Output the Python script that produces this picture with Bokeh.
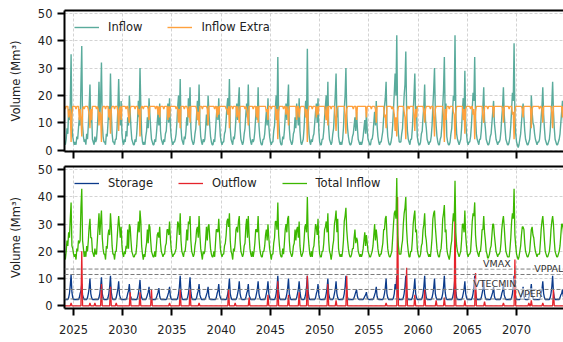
import numpy as np
from bokeh.plotting import figure
from bokeh.models import (Range1d, LinearAxis, FixedTicker, Span, Label, Legend,
                          LegendItem, CustomJSTickFormatter)
from bokeh.layouts import column
from bokeh.embed import file_html
from bokeh.resources import INLINE

# ---------------- data (monthly, Jan 2024 .. Dec 2074) ----------------
start_year = 2024
x_ticks = [2025, 2030, 2035, 2040, 2045, 2050, 2055, 2060, 2065, 2070]
y_ticks = [0, 10, 20, 30, 40, 50]

inflow = [
    3,3,2,4,8,6,15,11,17,35,9,5,
    3,2,3,2,5,4,8,12,9,24,38,9,
    5,3,4,2,6,4,9,16,24,10,14,4,
    3,2,5,3,4,8,14,25,12,18,32,10,
    5,3,3,2,6,5,10,16,11,28,14,6,
    3,3,2,4,4,8,15,26,14,9,18,6,
    3,2,4,3,7,5,12,9,20,14,8,4,
    3,2,2,4,3,6,11,18,12,30,16,6,
    3,2,3,2,5,7,12,8,19,13,8,4,
    3,2,2,4,3,6,10,14,9,17,7,4,
    3,2,4,3,6,7,12,17,10,19,9,5,
    3,2,3,3,4,6,10,16,20,11,26,8,
    4,3,2,5,4,7,12,9,19,14,23,8,
    4,3,2,3,6,8,13,18,11,24,10,5,
    3,2,4,3,4,8,13,9,20,14,9,5,
    3,2,2,4,3,7,12,16,11,19,10,5,
    3,2,3,3,6,7,11,16,19,13,26,8,
    4,3,2,5,4,7,12,17,11,18,23,8,
    4,3,2,3,6,8,13,17,12,24,10,5,
    3,2,4,3,4,7,12,16,11,23,9,5,
    3,2,2,4,4,6,10,14,9,19,9,5,
    3,2,3,3,7,9,15,20,13,34,12,6,
    3,2,2,5,4,7,12,17,11,18,24,8,
    4,3,2,3,6,7,12,8,17,13,9,19,
    7,3,2,3,4,8,14,18,12,37,12,6,
    3,2,4,3,5,6,10,14,17,10,19,7,
    3,2,2,4,4,7,12,16,20,11,25,8,
    4,3,2,3,6,8,14,20,28,12,16,5,
    3,2,3,2,4,8,15,20,30,13,8,5,
    3,2,2,3,5,6,9,12,7,14,8,4,
    3,2,3,2,3,5,8,11,6,14,7,4,
    3,2,2,4,4,6,10,14,9,18,9,5,
    3,2,3,3,5,7,12,16,19,25,10,5,
    3,2,2,3,5,9,15,21,28,20,42,12,
    6,3,3,3,6,8,14,20,24,36,14,7,
    4,3,2,4,4,8,14,20,28,12,16,5,
    3,2,2,3,6,7,12,16,24,11,8,4,
    3,2,3,3,5,9,16,22,30,14,9,5,
    3,2,2,4,5,9,16,22,34,12,17,5,
    3,2,2,3,6,8,14,20,18,42,13,6,
    4,3,2,3,4,8,14,19,12,29,11,6,
    3,2,3,3,5,9,15,21,18,34,12,6,
    4,3,2,4,4,7,12,16,23,11,8,4,
    3,2,2,3,5,6,10,14,18,10,7,4,
    3,2,3,3,4,7,12,16,23,13,8,4,
    3,2,2,3,5,9,15,21,18,39,12,6,
    3,2,1,2,4,6,10,14,17,12,7,4,
    3,2,2,3,4,8,20,14,10,9,6,4,
    3,2,3,3,4,7,12,16,23,13,8,4,
    3,2,2,3,4,7,12,17,25,14,8,4,
    3,2,2,3,4,6,10,14,18,12,7,4,
]

inflow_extra = [
    16,16,15,16,16,16,12,14,15,3,13,16,
    16,16,16,15,16,16,16,11,15,12,5,15,
    16,15,16,16,16,16,15,13,8,15,11,16,
    16,16,16,16,15,16,15,9,14,13,3,15,
    16,16,16,15,16,16,16,12,15,6,15,16,
    16,16,15,16,16,16,14,7,15,16,11,16,
    16,16,16,16,15,16,16,12,10,15,16,16,
    16,16,16,15,16,16,16,13,15,5,15,16,
    16,15,16,16,16,16,16,15,11,16,16,16,
    16,16,16,16,15,16,16,13,16,12,16,16,
    16,16,15,16,16,16,16,11,16,12,16,16,
    16,16,16,16,16,15,16,15,10,15,8,16,
    16,16,16,15,16,16,16,15,12,16,10,16,
    16,16,16,16,16,16,15,11,14,9,16,16,
    16,15,16,16,16,16,16,15,9,16,16,16,
    16,16,16,16,15,16,16,12,16,13,16,16,
    16,16,16,16,16,16,15,15,13,16,8,16,
    16,16,15,16,16,16,16,12,16,13,10,16,
    16,16,16,16,16,15,16,15,13,9,16,16,
    16,16,16,15,16,16,16,12,16,10,16,16,
    16,16,16,16,16,16,16,14,15,11,16,16,
    16,15,16,16,16,16,16,11,15,4,14,16,
    16,16,16,16,15,16,16,13,16,14,9,16,
    16,16,16,16,16,16,16,16,11,16,16,12,
    15,16,16,16,16,16,15,12,15,3,14,16,
    16,16,16,15,16,16,16,16,12,16,13,16,
    16,16,16,16,16,16,16,13,11,16,9,16,
    16,16,15,16,16,16,16,12,7,15,16,16,
    16,16,16,16,16,16,16,13,6,15,16,16,
    16,16,16,16,16,15,16,16,16,11,16,16,
    16,16,16,16,16,16,16,16,16,12,16,16,
    16,16,16,15,16,16,16,16,15,10,16,16,
    16,16,16,16,16,16,16,12,13,8,16,16,
    16,16,16,16,15,16,15,13,7,12,5,14,
    16,16,16,16,16,16,16,14,12,4,14,16,
    16,15,16,16,16,16,16,13,7,15,12,16,
    16,16,16,16,16,16,16,14,10,15,16,16,
    16,16,16,15,16,16,16,12,5,15,16,16,
    16,16,16,16,16,16,16,12,3,15,11,16,
    16,16,15,16,16,16,16,14,13,4,14,16,
    16,16,16,16,16,16,16,11,15,6,15,16,
    16,16,16,16,15,16,16,13,15,4,14,16,
    16,16,16,16,16,16,16,12,10,16,16,16,
    16,15,16,16,16,16,16,16,12,16,16,16,
    16,16,16,16,16,16,16,15,10,16,16,16,
    16,16,16,15,16,16,16,13,14,4,14,16,
    16,16,16,16,16,16,16,15,12,16,16,16,
    16,16,16,16,16,16,8,15,16,16,16,16,
    16,16,16,16,15,16,16,15,10,16,16,16,
    16,16,16,16,16,16,16,14,8,16,16,16,
    16,16,16,16,16,16,16,16,12,16,16,16,
]

storage = [
    2.3,2.3,2.3,2.3,2.3,2.3,3,4.5,7.5,11.5,5,3,
    2.3,2.3,2.3,2.3,2.3,2.3,2.3,3,4.5,5.5,8,4,
    3,2.3,2.3,2.3,2.3,3,4.5,6.5,10,4.5,3,2.3,
    2.3,2.3,2.3,2.3,2.3,2.3,2.3,3,4.5,7,10.5,4.5,
    3,2.3,2.3,2.3,2.3,2.3,3,4.5,7,11,5,3,
    2.3,2.3,2.3,2.3,3,4.5,6,9,4,3,2.3,2.3,
    2.3,2.3,2.3,2.3,2.3,3,4.5,5.5,8,4,3,2.3,
    2.3,2.3,2.3,2.3,2.3,2.3,3,4.5,6.5,9.5,4.5,3,
    2.3,2.3,2.3,2.3,2.3,3,4,5,7,3.5,2.5,2.3,
    2.3,2.3,2.3,2.3,2.3,3,4,5,6.5,3.5,2.5,2.3,
    2.3,2.3,2.3,2.3,2.3,2.3,3,4,5,7,3.5,2.5,
    2.3,2.3,2.3,2.3,2.3,2.3,2.3,3,4.5,7,11,5,
    3,2.3,2.3,2.3,2.3,2.3,2.3,3,4.5,7,10.5,5,
    3,2.3,2.3,2.3,2.3,2.3,3,4.5,5.5,8,4,3,
    2.3,2.3,2.3,2.3,2.3,3,4,5,7,3.5,2.5,2.3,
    2.3,2.3,2.3,2.3,2.3,2.3,3,4.5,5.5,8,4,3,
    2.3,2.3,2.3,2.3,2.3,2.3,2.3,3,4.5,6.5,10,4.5,
    3,2.3,2.3,2.3,2.3,2.3,2.3,3,4.5,6,9,4.5,
    3,2.3,2.3,2.3,2.3,2.3,3,4.5,5.5,8,4,3,
    2.3,2.3,2.3,2.3,2.3,2.3,3,4.5,6,9,4.5,3,
    2.3,2.3,2.3,2.3,2.3,2.3,3,4.5,6,9,4.5,3,
    2.3,2.3,2.3,2.3,2.3,2.3,3,4.5,7,11,5,3,
    2.3,2.3,2.3,2.3,2.3,2.3,2.3,3,4.5,6.5,10,4.5,
    3,2.3,2.3,2.3,2.3,2.3,2.3,2.3,3,4.5,6,9,
    5,3,2.3,2.3,2.3,2.3,3,4.5,7,11,5,3,
    2.3,2.3,2.3,2.3,2.3,2.3,2.3,3,4.5,5.5,8,4,
    2.5,2.3,2.3,2.3,2.3,2.3,2.3,3,4.5,6.5,10,4.5,
    3,2.3,2.3,2.3,2.3,3,4.5,6,9,4.5,3,2.3,
    2.3,2.3,2.3,2.3,2.3,3,4.5,7,11,5,3,2.3,
    2.3,2.3,2.3,2.3,2.3,2.3,3,4,5,6,3.5,2.5,
    2.3,2.3,2.3,2.3,2.3,2.3,2.8,3.5,4,5,3,2.5,
    2.3,2.3,2.3,2.3,2.3,2.3,3,4,5,7,3.5,2.5,
    2.3,2.3,2.3,2.3,2.3,2.3,3,4.5,6.5,10,4.5,3,
    2.3,2.3,2.3,2.3,2.3,2.3,3,4.5,8,6,11,5,
    3,2.3,2.3,2.3,2.3,2.3,3,4.5,7,11,5,3,
    2.3,2.3,2.3,2.3,2.3,3,4.5,6.5,10,4.5,3,2.3,
    2.3,2.3,2.3,2.3,2.3,3,4.5,7,11,5,3,2.3,
    2.3,2.3,2.3,2.3,2.3,3,4.5,6.5,10,4.5,3,2.3,
    2.3,2.3,2.3,2.3,2.3,3,4.5,7,11,5,3,2.3,
    2.3,2.3,2.3,2.3,2.3,2.3,3,4.5,7,11,5,3,
    2.3,2.3,2.3,2.3,2.3,2.3,3,4.5,6,9,4.5,3,
    2.3,2.3,2.3,2.3,2.3,2.3,3,4.5,7,11,5,3,
    2.3,2.3,2.3,2.3,2.3,3,4.5,6,9,4.5,3,2.3,
    2.3,2.3,2.3,2.3,2.3,3,4,5,7,3.5,2.5,2.3,
    2.3,2.3,2.3,2.3,2.3,3,4.5,5.5,8,4,3,2.3,
    2.3,2.3,2.3,2.3,2.3,2.3,3,4.5,7,11,5,3,
    2.3,2.3,2.3,2.3,2.3,3,4,5,7,3.5,2.5,2.3,
    2.3,2.3,2.3,3,4.5,5.5,8,4,3,2.3,2.3,2.3,
    2.3,2.3,2.3,2.3,2.3,3,4.5,6,9,4.5,3,2.3,
    2.3,2.3,2.3,2.3,2.3,3,4.5,7,11,5,3,2.3,
    2.3,2.3,2.3,2.3,2.3,3,4,4.5,6,3.5,2.5,2.3,
]

outflow = [
    0,0,0,0,0,0,0,0,0,1,0,0,
    0,0,0,0,0,0,0,0,0,0,20,0,
    0,0,0,0,0,0,0,0,1,0,0,0,
    0,0,1,0,0,0,0,0,0,0,8,0,
    0,0,0,0,0,0,0,0,0,7,0,0,
    0,0,0,0,1,0,0,0,0,0,0,0,
    0,0,0,0,0,0,0,0,0,5,0,0,
    0,0,0,0,0,0,0,0,0,5,0,0,
    0,0,0,0,0,0,0,0,0,0,0,6,
    0,0,0,0,0,0,0,0,0,0,0,0,
    0,0,0,0,0,0,0,0,0,1,0,0,
    0,0,0,0,0,0,0,0,0,0,6,0,
    0,0,0,0,0,0,0,0,0,0,6,0,
    0,0,0,0,0,0,0,0,0,1,0,0,
    0,0,0,0,0,0,0,0,0,0,0,0,
    0,0,0,0,0,0,0,0,0,0,0,0,
    0,0,0,0,0,0,0,0,0,6,0,0,
    0,0,0,0,0,1,0,0,0,0,0,0,
    0,0,0,0,0,0,0,0,0,0,3,0,
    0,0,0,0,0,0,0,0,0,0,0,0,
    0,0,0,0,0,0,0,0,0,4,0,0,
    0,0,0,0,0,0,0,0,0,9,0,0,
    0,0,0,0,0,0,0,0,0,0,4,0,
    0,0,0,0,0,0,0,0,0,0,0,5,
    0,0,0,0,0,0,0,0,0,11,0,0,
    0,0,0,0,0,0,0,0,0,0,0,0,
    0,0,0,0,0,0,0,0,0,0,8,0,
    0,0,0,0,0,0,0,0,2,0,0,0,
    0,0,0,0,0,0,0,0,0,11,0,0,
    0,0,0,0,0,0,0,0,0,0,0,0,
    0,0,0,0,0,0,0,0,0,0,0,0,
    0,0,0,0,0,0,0,0,0,0,0,0,
    0,0,0,0,0,0,0,0,0,1,0,0,
    0,0,0,0,0,0,0,0,0,0,0,40,
    0,0,0,0,0,0,0,0,0,0,14,0,
    0,0,0,0,0,0,0,0,4,0,0,0,
    0,0,0,0,0,0,0,0,6,0,0,0,
    0,0,0,0,0,0,0,0,0,0,2,0,
    0,0,0,0,0,0,0,0,3,0,0,0,
    0,0,0,0,0,0,0,0,0,37,0,0,
    0,0,0,0,0,0,0,0,0,2,0,0,
    0,0,0,0,0,0,0,0,0,0,12,0,
    0,0,0,0,0,0,0,0,0,1.5,0,0,
    0,0,0,0,0,0,0,0,0,0,0,0,
    0,0,0,0,0,0,0,0,1,0,0,0,
    0,0,0,0,0,0,0,0,0,0,17,0,
    0,0,0,0,0,0,0,0,0,0,0,0,
    0,0,0,1,0,0,2,0,0,0,0,0,
    0,0,0,0,0,0,0,0,1,0,0,0,
    0,0,0,0,0,0,0,0,0,6,0,0,
    0,0,0,0,0,0,0,0,0,0,0,0,
]

ref_names = ["VMAX", "VPPAL", "VTECMIN", "VPER"]
ref_values = [13.5, 11.5, 6.0, 2.5]

# derived
t = start_year + np.arange(len(inflow)) / 12.0
total_inflow = [a + b for a, b in zip(inflow, inflow_extra)]

# ---------------- styling ----------------
FONT = "DejaVu Sans"
FS = "11.5px"
C_INFLOW = "#5aab9c"
C_EXTRA = "#ffa13d"
C_STORAGE = "#0b3a8a"
C_OUT = "#e5232b"
C_TOTAL = "#3cb700"

x_range = Range1d(2024.08, 2074.77)


def make_fig(y0, y1, frame_h, top_border, bottom_border, show_xlabels):
    p = figure(x_range=x_range, y_range=Range1d(y0, y1),
               frame_width=499, frame_height=frame_h,
               min_border_left=64, min_border_right=0,
               min_border_top=top_border, min_border_bottom=bottom_border,
               output_backend="svg", toolbar_location=None)
    p.outline_line_color = None
    p.background_fill_color = "white"
    p.border_fill_color = "white"
    p.xaxis.ticker = FixedTicker(ticks=x_ticks)
    p.yaxis.ticker = FixedTicker(ticks=y_ticks)
    for ax in (p.xaxis[0], p.yaxis[0]):
        ax.axis_line_width = 2
        ax.axis_line_color = "black"
        ax.major_tick_line_width = 2
        ax.major_tick_line_color = "black"
        ax.major_tick_out = 7
        ax.major_tick_in = 0
        ax.minor_tick_out = 0
        ax.minor_tick_in = 0
        ax.major_label_text_font = FONT
        ax.major_label_text_font_size = FS
        ax.major_label_text_color = "#222222"
    p.yaxis.major_label_standoff = 5
    p.yaxis.axis_label = "Volume (Mm³)"
    p.yaxis.axis_label_text_font = FONT
    p.yaxis.axis_label_text_font_size = FS
    p.yaxis.axis_label_text_font_style = "normal"
    p.yaxis.axis_label_text_color = "#222222"
    p.yaxis.axis_label_standoff = 12
    if show_xlabels:
        p.xaxis.major_label_standoff = 9
    else:
        p.xaxis.formatter = CustomJSTickFormatter(code="return '';")
        p.xaxis.major_label_text_font_size = "1px"
        p.xaxis.major_label_standoff = 0
    top = LinearAxis(ticker=FixedTicker(ticks=[]), axis_line_width=2,
                     axis_line_color="black", major_tick_out=0, major_tick_in=0,
                     minor_tick_out=0, minor_tick_in=0,
                     major_label_standoff=0)
    p.add_layout(top, "above")
    for g in (p.xgrid[0], p.ygrid[0]):
        g.grid_line_color = "#c8c8c8"
        g.grid_line_dash = "3 2"
        g.grid_line_width = 0.8
    return p


# ---------------- top panel ----------------
p1 = make_fig(-0.47, 51.0, 141, 10, 8, False)
r_in = p1.line(t, inflow, line_color=C_INFLOW, line_width=1.4)
r_ex = p1.line(t, inflow_extra, line_color=C_EXTRA, line_width=1.4)
leg1 = Legend(items=[LegendItem(label="Inflow", renderers=[r_in]),
                     LegendItem(label="Inflow Extra", renderers=[r_ex])],
              orientation="horizontal", location="top_left",
              margin=4, padding=6, spacing=25, glyph_width=25, glyph_height=12,
              label_height=12, label_standoff=9,
              label_text_font=FONT, label_text_font_size=FS,
              label_text_color="#222222",
              background_fill_alpha=0, border_line_alpha=0)
p1.add_layout(leg1)

# ---------------- bottom panel ----------------
p2 = make_fig(-1.0, 51.2, 142, 7, 10, True)
for name, v in zip(ref_names, ref_values):
    p2.add_layout(Span(location=v, dimension="width", line_color="#7a7a7a",
                       line_dash="4 2", line_width=1))
r_st = p2.line(t, storage, line_color=C_STORAGE, line_width=1.3)
r_out = p2.line(t, outflow, line_color=C_OUT, line_width=1.3)
r_tot = p2.line(t, total_inflow, line_color=C_TOTAL, line_width=1.3)
label_x = [2066.6, 2071.8, 2065.6, 2070.1]
for name, v, lx in zip(ref_names, ref_values, label_x):
    p2.add_layout(Label(x=lx, y=v, text=name, text_font=FONT,
                        text_font_size="9.5px", text_color="#333333",
                        text_baseline="bottom", text_align="left",
                        background_fill_color="white", background_fill_alpha=0.5))
leg2 = Legend(items=[LegendItem(label="Storage", renderers=[r_st]),
                     LegendItem(label="Outflow", renderers=[r_out]),
                     LegendItem(label="Total Inflow", renderers=[r_tot])],
              orientation="horizontal", location="top_left",
              margin=4, padding=6, spacing=25, glyph_width=25, glyph_height=12,
              label_height=12, label_standoff=9,
              label_text_font=FONT, label_text_font_size=FS,
              label_text_color="#222222",
              background_fill_alpha=0, border_line_alpha=0)
p2.add_layout(leg2)

layout = column(p1, p2, spacing=0)
open("out.html", "w").write(file_html(layout, INLINE))
